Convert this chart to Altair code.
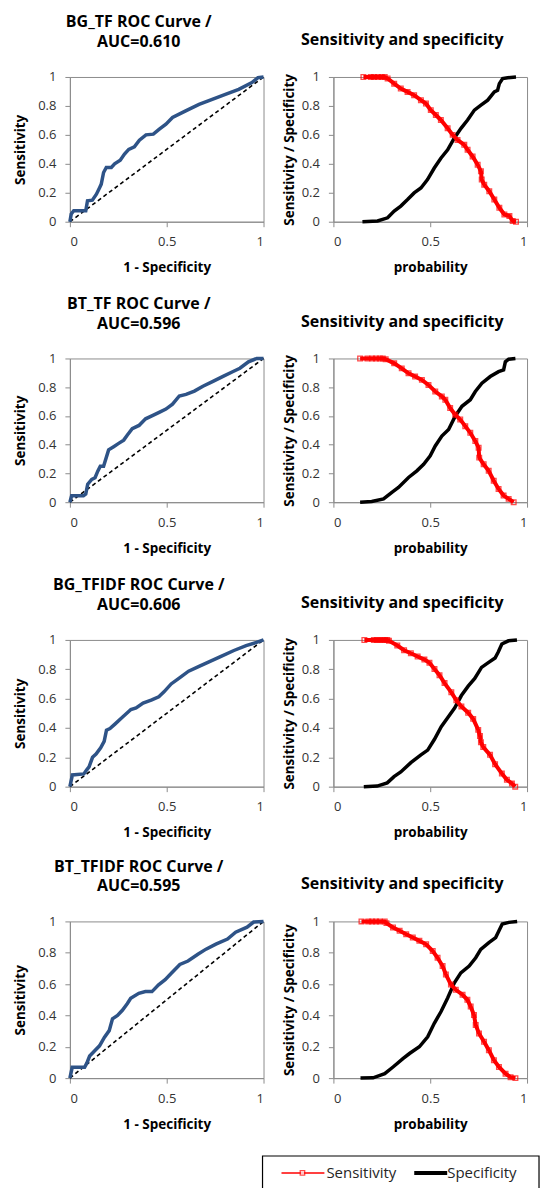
import altair as alt
import pandas as pd

FONT = "Open Sans"
BLUE = "#2E5387"
RED = "#FF0000"
GRAY = "#8C8C8C"

roc_titles = [
    ["BG_TF ROC Curve /", "AUC=0.610"],
    ["BT_TF ROC Curve /", "AUC=0.596"],
    ["BG_TFIDF ROC Curve /", "AUC=0.606"],
    ["BT_TFIDF ROC Curve /", "AUC=0.595"],
]
right_title = "Sensitivity and specificity"
series_names = ["Sensitivity", "Specificity"]
diag = [0, 1]
y_ticks = [0, 0.2, 0.4, 0.6, 0.8, 1]
x_ticks = [0, 0.5, 1]

# ---- ROC curves (1 - specificity, sensitivity) ----
roc1_fpr = [0, 0.007, 0.02, 0.082, 0.091, 0.116, 0.137, 0.154, 0.162, 0.174, 0.188, 0.214, 0.231, 0.26, 0.282, 0.304,
            0.333, 0.359, 0.393, 0.431, 0.462, 0.496, 0.53, 0.598, 0.667, 0.735, 0.803, 0.872, 0.94, 0.971, 1]
roc1_tpr = [0, 0.053, 0.076, 0.076, 0.145, 0.149, 0.19, 0.237, 0.26, 0.34, 0.375, 0.375, 0.40, 0.425, 0.467, 0.50,
            0.517, 0.563, 0.60, 0.605, 0.639, 0.674, 0.72, 0.766, 0.811, 0.846, 0.88, 0.915, 0.961, 0.995, 1]

roc2_fpr = [0, 0.009, 0.07, 0.082, 0.092, 0.113, 0.13, 0.144, 0.157, 0.174, 0.2, 0.226, 0.252, 0.278, 0.296, 0.322,
            0.357, 0.391, 0.426, 0.461, 0.496, 0.53, 0.565, 0.6, 0.643, 0.687, 0.739, 0.791, 0.843, 0.878, 0.922, 0.965, 1]
roc2_tpr = [0, 0.045, 0.045, 0.057, 0.125, 0.159, 0.17, 0.216, 0.25, 0.25, 0.364, 0.386, 0.409, 0.432, 0.466, 0.511,
            0.534, 0.58, 0.602, 0.625, 0.648, 0.682, 0.739, 0.75, 0.773, 0.807, 0.841, 0.875, 0.909, 0.932, 0.977, 1, 1]

roc3_fpr = [0, 0.013, 0.072, 0.086, 0.099, 0.117, 0.135, 0.159, 0.177, 0.189, 0.207, 0.234, 0.261, 0.288, 0.315,
            0.342, 0.378, 0.423, 0.459, 0.486, 0.523, 0.568, 0.613, 0.667, 0.721, 0.775, 0.847, 0.91, 0.964, 1]
roc3_tpr = [0, 0.08, 0.087, 0.113, 0.135, 0.2, 0.222, 0.265, 0.309, 0.385, 0.396, 0.428, 0.461, 0.493, 0.526,
            0.537, 0.57, 0.591, 0.613, 0.646, 0.7, 0.743, 0.787, 0.82, 0.852, 0.885, 0.928, 0.961, 0.983, 1]

roc4_fpr = [0, 0.012, 0.076, 0.088, 0.102, 0.127, 0.153, 0.178, 0.203, 0.22, 0.246, 0.271, 0.297, 0.314, 0.356,
            0.39, 0.424, 0.458, 0.492, 0.525, 0.568, 0.61, 0.661, 0.703, 0.754, 0.814, 0.856, 0.915, 0.949, 1]
roc4_tpr = [0, 0.069, 0.069, 0.097, 0.141, 0.173, 0.206, 0.26, 0.303, 0.379, 0.4, 0.433, 0.476, 0.509, 0.541,
            0.552, 0.552, 0.595, 0.628, 0.671, 0.725, 0.747, 0.79, 0.823, 0.855, 0.887, 0.931, 0.963, 0.996, 1]

# ---- Sensitivity / specificity vs probability ----
sens1_p = [0.155, 0.193, 0.21, 0.23, 0.25, 0.265, 0.28, 0.314, 0.348, 0.383, 0.417, 0.452, 0.478, 0.503, 0.529, 0.555,
           0.59, 0.616, 0.641, 0.676, 0.693, 0.719, 0.745, 0.762, 0.766, 0.779, 0.805, 0.831, 0.857, 0.883, 0.909, 0.926, 0.943]
sens1_v = [1, 1, 1, 1, 1, 1, 0.99, 0.954, 0.92, 0.897, 0.874, 0.84, 0.817, 0.771, 0.737, 0.703,
           0.645, 0.60, 0.565, 0.531, 0.497, 0.451, 0.394, 0.348, 0.291, 0.256, 0.211, 0.153, 0.096, 0.05, 0.039, 0.005, 0]
spec1_p = [0.15, 0.228, 0.28, 0.314, 0.348, 0.383, 0.417, 0.452, 0.486, 0.521, 0.555, 0.59, 0.624, 0.659, 0.693,
           0.728, 0.762, 0.797, 0.831, 0.848, 0.857, 0.874, 0.9, 0.943]
spec1_v = [0, 0.005, 0.027, 0.073, 0.108, 0.153, 0.199, 0.233, 0.291, 0.371, 0.439, 0.497, 0.577, 0.645, 0.703,
           0.771, 0.805, 0.84, 0.897, 0.908, 0.954, 0.989, 0.995, 1]

sens2_p = [0.138, 0.176, 0.2, 0.22, 0.24, 0.255, 0.27, 0.314, 0.353, 0.388, 0.422, 0.457, 0.491, 0.526, 0.56, 0.578,
           0.603, 0.629, 0.655, 0.681, 0.707, 0.733, 0.75, 0.753, 0.776, 0.802, 0.828, 0.853, 0.879, 0.905, 0.931]
sens2_v = [1, 1, 1, 1, 1, 1, 0.995, 0.966, 0.931, 0.897, 0.874, 0.851, 0.816, 0.77, 0.736, 0.713,
           0.655, 0.609, 0.575, 0.529, 0.483, 0.425, 0.379, 0.31, 0.264, 0.218, 0.149, 0.092, 0.046, 0.023, 0]
spec2_p = [0.138, 0.198, 0.259, 0.302, 0.336, 0.388, 0.431, 0.466, 0.5, 0.526, 0.56, 0.595, 0.629, 0.664, 0.707,
           0.733, 0.767, 0.81, 0.853, 0.879, 0.888, 0.905, 0.94]
spec2_v = [0, 0.005, 0.023, 0.069, 0.103, 0.172, 0.218, 0.264, 0.322, 0.391, 0.46, 0.506, 0.598, 0.667, 0.713,
           0.77, 0.828, 0.874, 0.908, 0.92, 0.977, 0.995, 1]

sens3_p = [0.16, 0.209, 0.225, 0.24, 0.255, 0.268, 0.278, 0.287, 0.33, 0.365, 0.4, 0.435, 0.47, 0.496, 0.522, 0.548,
           0.574, 0.609, 0.635, 0.661, 0.696, 0.722, 0.748, 0.757, 0.762, 0.774, 0.809, 0.835, 0.87, 0.896, 0.922, 0.939]
sens3_v = [1, 1, 1, 1, 1, 1, 1, 0.994, 0.962, 0.93, 0.909, 0.887, 0.866, 0.845, 0.802, 0.76,
           0.706, 0.643, 0.589, 0.547, 0.504, 0.462, 0.387, 0.345, 0.302, 0.27, 0.217, 0.153, 0.089, 0.047, 0.021, 0]
spec3_p = [0.157, 0.226, 0.278, 0.313, 0.348, 0.4, 0.452, 0.487, 0.522, 0.557, 0.591, 0.626, 0.661, 0.696, 0.73,
           0.765, 0.8, 0.835, 0.852, 0.87, 0.904, 0.948]
spec3_v = [0, 0.004, 0.026, 0.068, 0.1, 0.164, 0.217, 0.249, 0.323, 0.409, 0.472, 0.536, 0.621, 0.685, 0.738,
           0.813, 0.845, 0.877, 0.919, 0.972, 0.994, 1]

sens4_p = [0.145, 0.18, 0.2, 0.22, 0.24, 0.265, 0.274, 0.308, 0.342, 0.376, 0.41, 0.444, 0.479, 0.513, 0.538, 0.564,
           0.581, 0.607, 0.632, 0.667, 0.692, 0.709, 0.726, 0.735, 0.752, 0.778, 0.803, 0.829, 0.855, 0.889, 0.915, 0.94]
sens4_v = [1, 1, 1, 1, 1, 1, 0.989, 0.961, 0.94, 0.918, 0.897, 0.876, 0.854, 0.811, 0.768, 0.715,
           0.661, 0.597, 0.564, 0.532, 0.5, 0.457, 0.403, 0.339, 0.285, 0.232, 0.178, 0.114, 0.071, 0.028, 0.006, 0]
spec4_p = [0.14, 0.205, 0.265, 0.308, 0.359, 0.393, 0.444, 0.487, 0.521, 0.556, 0.59, 0.624, 0.658, 0.701, 0.735,
           0.761, 0.803, 0.838, 0.855, 0.872, 0.906, 0.949]
spec4_v = [0, 0.002, 0.028, 0.071, 0.124, 0.157, 0.2, 0.264, 0.35, 0.425, 0.511, 0.607, 0.672, 0.715, 0.768,
           0.822, 0.865, 0.897, 0.94, 0.983, 0.994, 1]

roc_data = [(roc1_fpr, roc1_tpr), (roc2_fpr, roc2_tpr), (roc3_fpr, roc3_tpr), (roc4_fpr, roc4_tpr)]
ss_data = [(sens1_p, sens1_v, spec1_p, spec1_v), (sens2_p, sens2_v, spec2_p, spec2_v),
           (sens3_p, sens3_v, spec3_p, spec3_v), (sens4_p, sens4_v, spec4_p, spec4_v)]

row_heights = [145, 144, 147, 157]
PW = 194


def xy_df(xs, ys):
    assert len(xs) == len(ys)
    return pd.DataFrame({"x": xs, "y": ys, "i": list(range(len(xs)))})


def enc(xtitle, ytitle, ytp):
    sc = alt.Scale(domain=[0, 1], nice=False, zero=False)
    return dict(
        x=alt.X("x:Q", scale=sc, axis=alt.Axis(values=x_ticks, format="~g", title=xtitle)),
        y=alt.Y("y:Q", scale=sc, axis=alt.Axis(values=y_ticks, format="~g", title=ytitle, titlePadding=ytp)),
        order=alt.Order("i:Q"),
    )


def roc_panel(k):
    fpr, tpr = roc_data[k]
    e = enc("1 - Specificity", "Sensitivity", 10)
    dl = alt.Chart(xy_df(diag, diag)).mark_line(color="black", strokeWidth=1.6, strokeDash=[4, 3]).encode(**e)
    cv = alt.Chart(xy_df(fpr, tpr)).mark_line(color=BLUE, strokeWidth=3.5).encode(**e)
    return alt.layer(dl, cv).properties(
        width=PW, height=row_heights[k],
        title=alt.TitleParams(text=roc_titles[k], lineHeight=20, offset=20, dx=-28),
    )


def ss_panel(k, with_legend=False):
    sp, sv, cp, cv_ = ss_data[k]
    e = enc("probability", "Sensitivity / Specificity", 5)
    spec = alt.Chart(xy_df(cp, cv_)).mark_line(color="black", strokeWidth=3.5).encode(**e)
    sens_line = alt.Chart(xy_df(sp, sv)).mark_line(color=RED, strokeWidth=4).encode(**e)
    sens_pts = alt.Chart(xy_df(sp, sv)).mark_point(shape="square", filled=False, color=RED, size=22,
                                                   strokeWidth=1.3).encode(x=e["x"], y=e["y"])
    layers = [spec, sens_line, sens_pts]
    if with_legend:
        one = pd.DataFrame({"s": [series_names[0]]})
        two = pd.DataFrame({"s": [series_names[1]]})
        box = alt.Chart(one).mark_rect(fill="white", stroke="black", strokeWidth=1.2).encode(
            x=alt.value(-71), x2=alt.value(206), y=alt.value(235), y2=alt.value(272))
        r_rule = alt.Chart(one).mark_rule(color=RED, strokeWidth=1.5).encode(
            x=alt.value(-52), x2=alt.value(-9), y=alt.value(252))
        r_sq = alt.Chart(one).mark_point(shape="square", filled=True, fill="white", stroke=RED, size=20,
                                         strokeWidth=1.3).encode(x=alt.value(-31), y=alt.value(252))
        r_txt = alt.Chart(one).mark_text(align="left", baseline="middle", fontSize=15, font=FONT,
                                         color="#262626").encode(x=alt.value(-7), y=alt.value(252), text="s:N")
        b_rule = alt.Chart(two).mark_rule(color="black", strokeWidth=4).encode(
            x=alt.value(81), x2=alt.value(114), y=alt.value(252))
        b_txt = alt.Chart(two).mark_text(align="left", baseline="middle", fontSize=15, font=FONT,
                                         color="#262626").encode(x=alt.value(114), y=alt.value(252), text="s:N")
        layers += [box, r_rule, r_sq, r_txt, b_rule, b_txt]
    return alt.layer(*layers).properties(
        width=PW, height=row_heights[k],
        title=alt.TitleParams(text=right_title, offset=21, dx=-28),
    )


rows = [alt.hconcat(roc_panel(k), ss_panel(k, with_legend=(k == 3)), spacing=70, bounds="flush")
        for k in range(4)]

chart = alt.vconcat(*rows, spacing=282, bounds="flush").properties(
    padding={"left": 5, "top": 4, "right": 5, "bottom": 5}
).configure_view(
    stroke=GRAY, strokeWidth=1
).configure_axis(
    grid=False, domainColor=GRAY, tickColor=GRAY, tickSize=5, domainWidth=1,
    labelFont=FONT, labelFontSize=13, labelColor="#333333",
    titleFont=FONT, titleFontSize=13.5, titleFontWeight="bold", titleColor="black",
).configure_axisY(
    labelPadding=9
).configure_axisX(
    labelPadding=9, titlePadding=12
).configure_title(
    font=FONT, fontSize=16, fontWeight="bold", color="black", anchor="middle"
)

chart.save("out.html", embed_options={"renderer": "svg", "actions": False})
